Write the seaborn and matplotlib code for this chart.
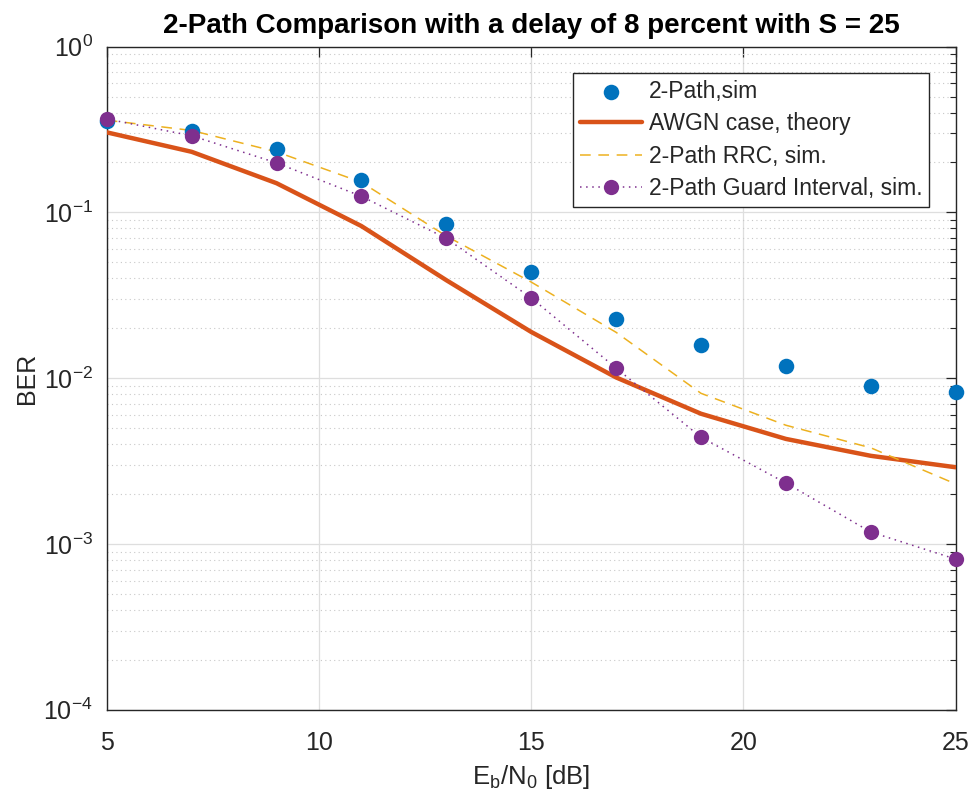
import numpy as np
import pandas as pd
import matplotlib
matplotlib.use("Agg")
import matplotlib.pyplot as plt
import seaborn as sns
from matplotlib.ticker import LogLocator, NullFormatter, FixedLocator

# ---- data ----
ebn0 = [5, 7, 9, 11, 13, 15, 17, 19, 21, 23, 25]
ber_2path_sim = [0.356, 0.31, 0.241, 0.157, 0.0847, 0.0438, 0.0229, 0.0158, 0.0119, 0.0090, 0.0083]
ber_awgn_theory = [0.304, 0.232, 0.150, 0.0827, 0.039, 0.019, 0.0101, 0.0061, 0.0043, 0.0034, 0.0029]
ber_rrc_sim = [0.36, 0.312, 0.232, 0.152, 0.072, 0.038, 0.0189, 0.0081, 0.0052, 0.0038, 0.0023]
ber_guard_sim = [0.366, 0.29, 0.199, 0.125, 0.0697, 0.0305, 0.0115, 0.0044, 0.00233, 0.00118, 0.00081]

labels = ["2-Path,sim", "AWGN case, theory", "2-Path RRC, sim.", "2-Path Guard Interval, sim."]
title = "2-Path Comparison with a delay of 8 percent with S = 25"
x_ticks = [5, 10, 15, 20, 25]

df = pd.DataFrame({
    "ebn0": ebn0,
    "sim": ber_2path_sim,
    "awgn": ber_awgn_theory,
    "rrc": ber_rrc_sim,
    "guard": ber_guard_sim,
})

sns.set_style("white")
plt.rcParams["font.family"] = ["Liberation Sans", "DejaVu Sans"]
plt.rcParams["mathtext.fontset"] = "custom"
plt.rcParams["mathtext.rm"] = "Liberation Sans"
plt.rcParams["mathtext.it"] = "Liberation Sans:italic"
plt.rcParams["mathtext.bf"] = "Liberation Sans:bold"

fig = plt.figure(figsize=(9.72, 8.01), dpi=100)
ax = fig.add_axes([0.1098, 0.1140, 0.8734, 0.8278])

c_blue = "#0072BD"
c_orange = "#D95319"
c_yellow = "#EDB120"
c_purple = "#7E2F8E"

sns.scatterplot(data=df, x="ebn0", y="sim", ax=ax, color=c_blue, s=125,
                edgecolor=c_blue, linewidth=0, label=labels[0], zorder=5, clip_on=False)
sns.lineplot(data=df, x="ebn0", y="awgn", ax=ax, color=c_orange, linewidth=3.2,
             label=labels[1], zorder=4)
sns.lineplot(data=df, x="ebn0", y="rrc", ax=ax, color=c_yellow, linewidth=1.1,
             dashes=False, label=labels[2], zorder=4)
ax.lines[-1].set_linestyle((0, (7, 5)))
sns.lineplot(data=df, x="ebn0", y="guard", ax=ax, color=c_purple, linewidth=1.1,
             marker="o", markersize=11, markeredgewidth=0, label=labels[3], zorder=6,
             clip_on=False)
ax.lines[-1].set_linestyle((0, (1, 3)))

ax.set_yscale("log")
ax.set_xlim(5, 25)
ax.set_ylim(1e-4, 1)
ax.xaxis.set_major_locator(FixedLocator(x_ticks))
ax.yaxis.set_major_locator(LogLocator(base=10, numticks=10))
ax.yaxis.set_minor_locator(LogLocator(base=10, subs=np.arange(2, 10), numticks=20))
ax.yaxis.set_minor_formatter(NullFormatter())

ax.grid(True, which="major", color="#dedede", linewidth=0.9, linestyle="-")
ax.grid(True, which="minor", axis="y", color="#c8c8c8", linewidth=0.8, linestyle=(0, (1, 3)))
ax.set_axisbelow(True)

for sp in ax.spines.values():
    sp.set_visible(True)
    sp.set_color("#262626")
    sp.set_linewidth(1.0)

ax.tick_params(which="both", direction="in", top=True, right=True, colors="#262626",
               labelcolor="#262626", labelsize=18)
ax.tick_params(which="major", length=7, width=0.9, pad=10)
ax.tick_params(axis="x", which="major", pad=15)
ax.tick_params(which="minor", length=4, width=0.8)

ax.set_xlabel(r"E$_\mathregular{b}$/N$_\mathregular{0}$ [dB]", fontsize=18.5, color="#262626", labelpad=6)
ax.set_ylabel("BER", fontsize=18, color="#262626", labelpad=3)
ax.set_title(title, fontsize=20, fontweight="bold", color="#000000", pad=10)

leg = ax.legend(loc="upper right", bbox_to_anchor=(0.9686, 0.960), fontsize=16.5,
                frameon=True, fancybox=False, edgecolor="#262626", framealpha=1,
                handlelength=2.7, handletextpad=0.3, borderpad=0.3, labelspacing=0.41,
                borderaxespad=0)
leg.get_frame().set_linewidth(1.0)

fig.savefig("out.png", dpi=100)
